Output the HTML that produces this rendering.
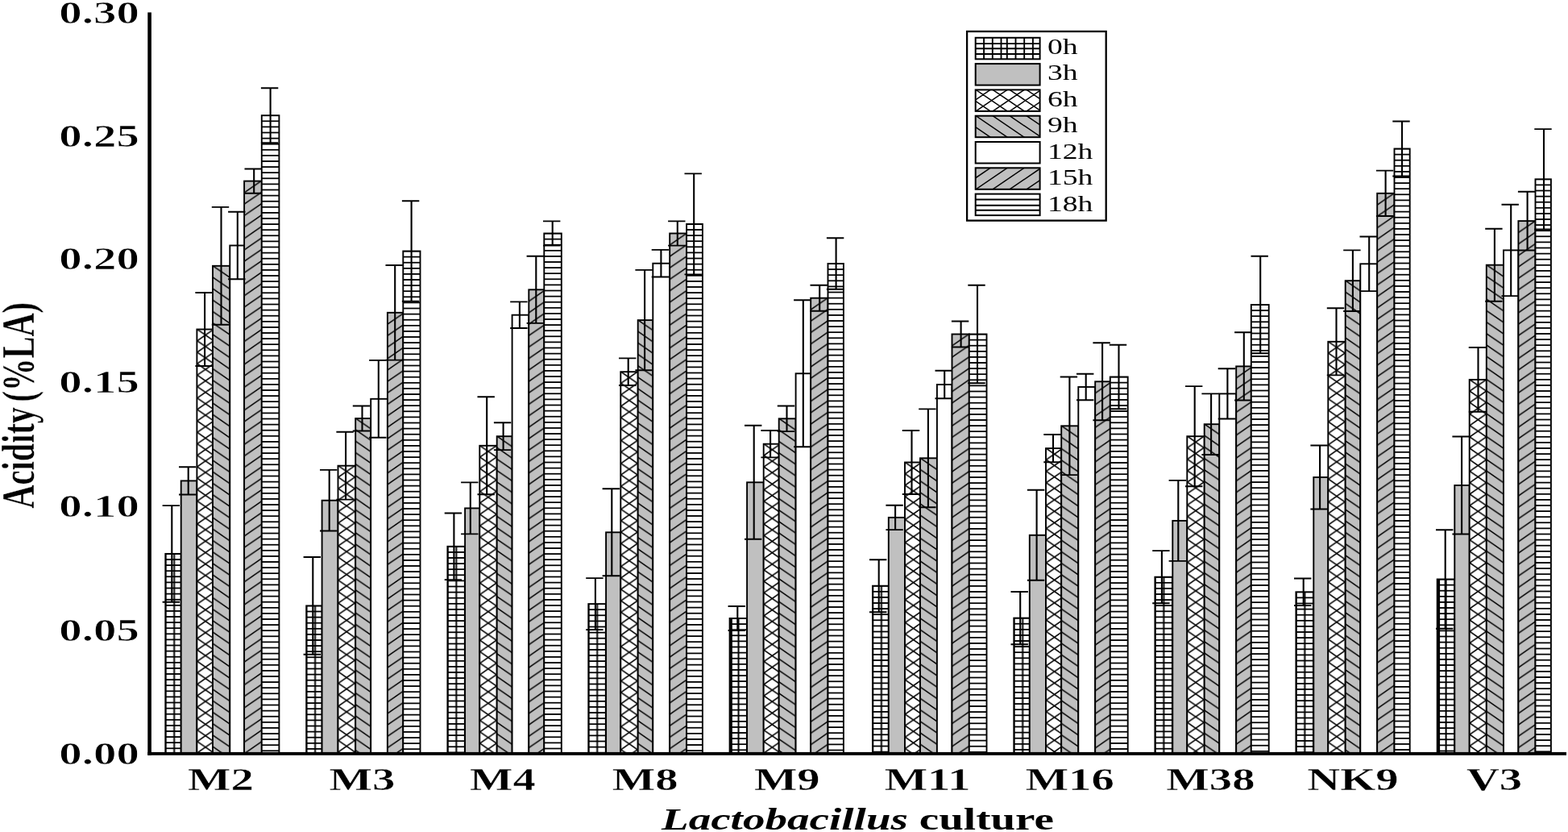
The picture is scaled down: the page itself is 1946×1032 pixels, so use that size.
<!DOCTYPE html>
<html lang="en"><head><meta charset="utf-8"><title>Acidity of Lactobacillus cultures</title>
<style>html,body{margin:0;padding:0;background:#fff;}body{width:1946px;height:1032px;overflow:hidden;}svg{display:block;}text{font-family:"Liberation Serif","DejaVu Serif",serif;fill:#000;}.b{font-weight:bold;}.bi{font-weight:bold;font-style:italic;}.th{stroke:#fff;stroke-width:0.7px;stroke-linejoin:round;}.th2{stroke:#fff;stroke-width:0.4px;stroke-linejoin:round;}</style></head><body>
<svg width="1946" height="1032" viewBox="0 0 1946 1032">
<defs>
<pattern id="b0" patternUnits="userSpaceOnUse" x="205.6" y="686.9" width="60.00" height="7.10"><rect width="60.00" height="7.10" fill="#fff"/><path d="M-1 0 H99 M-1 7.1 H99" stroke="#000" stroke-width="1.75" fill="none"/><path d="M0 -1 V30 M10.6 -1 V30 M21.6 -1 V30" stroke="#000" stroke-width="2" fill="none"/></pattern>
<pattern id="b1" patternUnits="userSpaceOnUse" x="244.7" y="408.5" width="20.60" height="14.20"><rect width="20.60" height="14.20" fill="#fff"/><path d="M-20.6 -14.2 L41.2 28.4 M-20.6 0 L41.2 42.6 M-20.6 -28.4 L41.2 14.2 M-20.6 28.4 L41.2 -14.2 M-20.6 42.6 L41.2 0 M-20.6 14.2 L41.2 -28.4" stroke="#000" stroke-width="1.65" fill="none"/></pattern>
<pattern id="b2" patternUnits="userSpaceOnUse" x="264.3" y="329.8" width="20.60" height="14.20"><rect width="20.60" height="14.20" fill="#c0c0c0"/><path d="M-20.6 -14.2 L41.2 28.4 M-20.6 0 L41.2 42.6 M-20.6 -28.4 L41.2 14.2" stroke="#000" stroke-width="1.50" fill="none"/></pattern>
<pattern id="b3" patternUnits="userSpaceOnUse" x="303.4" y="224.6" width="20.60" height="14.20"><rect width="20.60" height="14.20" fill="#c0c0c0"/><path d="M-20.6 28.4 L41.2 -14.2 M-20.6 42.6 L41.2 0 M-20.6 14.2 L41.2 -28.4" stroke="#000" stroke-width="1.50" fill="none"/></pattern>
<pattern id="b4" patternUnits="userSpaceOnUse" x="325.1" y="143.2" width="60.00" height="7.10"><rect width="60.00" height="7.10" fill="#fff"/><path d="M-1 0 H99 M-1 7.1 H99" stroke="#000" stroke-width="1.75" fill="none"/></pattern>
<pattern id="b5" patternUnits="userSpaceOnUse" x="380.5" y="751.4" width="60.00" height="7.10"><rect width="60.00" height="7.10" fill="#fff"/><path d="M-1 0 H99 M-1 7.1 H99" stroke="#000" stroke-width="1.75" fill="none"/><path d="M0 -1 V30 M10.6 -1 V30 M21.6 -1 V30" stroke="#000" stroke-width="2" fill="none"/></pattern>
<pattern id="b6" patternUnits="userSpaceOnUse" x="419.8" y="577.7" width="20.60" height="14.20"><rect width="20.60" height="14.20" fill="#fff"/><path d="M-20.6 -14.2 L41.2 28.4 M-20.6 0 L41.2 42.6 M-20.6 -28.4 L41.2 14.2 M-20.6 28.4 L41.2 -14.2 M-20.6 42.6 L41.2 0 M-20.6 14.2 L41.2 -28.4" stroke="#000" stroke-width="1.65" fill="none"/></pattern>
<pattern id="b7" patternUnits="userSpaceOnUse" x="441.5" y="519.0" width="20.60" height="14.20"><rect width="20.60" height="14.20" fill="#c0c0c0"/><path d="M-20.6 -14.2 L41.2 28.4 M-20.6 0 L41.2 42.6 M-20.6 -28.4 L41.2 14.2" stroke="#000" stroke-width="1.50" fill="none"/></pattern>
<pattern id="b8" patternUnits="userSpaceOnUse" x="481.2" y="387.8" width="20.60" height="14.20"><rect width="20.60" height="14.20" fill="#c0c0c0"/><path d="M-20.6 28.4 L41.2 -14.2 M-20.6 42.6 L41.2 0 M-20.6 14.2 L41.2 -28.4" stroke="#000" stroke-width="1.50" fill="none"/></pattern>
<pattern id="b9" patternUnits="userSpaceOnUse" x="500.6" y="311.5" width="60.00" height="7.10"><rect width="60.00" height="7.10" fill="#fff"/><path d="M-1 0 H99 M-1 7.1 H99" stroke="#000" stroke-width="1.75" fill="none"/></pattern>
<pattern id="b10" patternUnits="userSpaceOnUse" x="555.7" y="677.8" width="60.00" height="7.10"><rect width="60.00" height="7.10" fill="#fff"/><path d="M-1 0 H99 M-1 7.1 H99" stroke="#000" stroke-width="1.75" fill="none"/><path d="M0 -1 V30 M10.6 -1 V30 M21.6 -1 V30" stroke="#000" stroke-width="2" fill="none"/></pattern>
<pattern id="b11" patternUnits="userSpaceOnUse" x="595.6" y="552.8" width="20.60" height="14.20"><rect width="20.60" height="14.20" fill="#fff"/><path d="M-20.6 -14.2 L41.2 28.4 M-20.6 0 L41.2 42.6 M-20.6 -28.4 L41.2 14.2 M-20.6 28.4 L41.2 -14.2 M-20.6 42.6 L41.2 0 M-20.6 14.2 L41.2 -28.4" stroke="#000" stroke-width="1.65" fill="none"/></pattern>
<pattern id="b12" patternUnits="userSpaceOnUse" x="617.0" y="541.2" width="20.60" height="14.20"><rect width="20.60" height="14.20" fill="#c0c0c0"/><path d="M-20.6 -14.2 L41.2 28.4 M-20.6 0 L41.2 42.6 M-20.6 -28.4 L41.2 14.2" stroke="#000" stroke-width="1.50" fill="none"/></pattern>
<pattern id="b13" patternUnits="userSpaceOnUse" x="656.6" y="359.3" width="20.60" height="14.20"><rect width="20.60" height="14.20" fill="#c0c0c0"/><path d="M-20.6 28.4 L41.2 -14.2 M-20.6 42.6 L41.2 0 M-20.6 14.2 L41.2 -28.4" stroke="#000" stroke-width="1.50" fill="none"/></pattern>
<pattern id="b14" patternUnits="userSpaceOnUse" x="675.6" y="289.5" width="60.00" height="7.10"><rect width="60.00" height="7.10" fill="#fff"/><path d="M-1 0 H99 M-1 7.1 H99" stroke="#000" stroke-width="1.75" fill="none"/></pattern>
<pattern id="b15" patternUnits="userSpaceOnUse" x="730.6" y="749.1" width="60.00" height="7.10"><rect width="60.00" height="7.10" fill="#fff"/><path d="M-1 0 H99 M-1 7.1 H99" stroke="#000" stroke-width="1.75" fill="none"/><path d="M0 -1 V30 M10.6 -1 V30 M21.6 -1 V30" stroke="#000" stroke-width="2" fill="none"/></pattern>
<pattern id="b16" patternUnits="userSpaceOnUse" x="770.6" y="461.2" width="20.60" height="14.20"><rect width="20.60" height="14.20" fill="#fff"/><path d="M-20.6 -14.2 L41.2 28.4 M-20.6 0 L41.2 42.6 M-20.6 -28.4 L41.2 14.2 M-20.6 28.4 L41.2 -14.2 M-20.6 42.6 L41.2 0 M-20.6 14.2 L41.2 -28.4" stroke="#000" stroke-width="1.65" fill="none"/></pattern>
<pattern id="b17" patternUnits="userSpaceOnUse" x="792.0" y="397.1" width="20.60" height="14.20"><rect width="20.60" height="14.20" fill="#c0c0c0"/><path d="M-20.6 -14.2 L41.2 28.4 M-20.6 0 L41.2 42.6 M-20.6 -28.4 L41.2 14.2" stroke="#000" stroke-width="1.50" fill="none"/></pattern>
<pattern id="b18" patternUnits="userSpaceOnUse" x="831.5" y="289.5" width="20.60" height="14.20"><rect width="20.60" height="14.20" fill="#c0c0c0"/><path d="M-20.6 28.4 L41.2 -14.2 M-20.6 42.6 L41.2 0 M-20.6 14.2 L41.2 -28.4" stroke="#000" stroke-width="1.50" fill="none"/></pattern>
<pattern id="b19" patternUnits="userSpaceOnUse" x="852.4" y="277.9" width="60.00" height="7.10"><rect width="60.00" height="7.10" fill="#fff"/><path d="M-1 0 H99 M-1 7.1 H99" stroke="#000" stroke-width="1.75" fill="none"/></pattern>
<pattern id="b20" patternUnits="userSpaceOnUse" x="905.9" y="767.0" width="60.00" height="7.10"><rect width="60.00" height="7.10" fill="#fff"/><path d="M-1 0 H99 M-1 7.1 H99" stroke="#000" stroke-width="1.75" fill="none"/><path d="M0 -1 V30 M10.6 -1 V30 M21.6 -1 V30" stroke="#000" stroke-width="2" fill="none"/></pattern>
<pattern id="b21" patternUnits="userSpaceOnUse" x="948.0" y="550.7" width="20.60" height="14.20"><rect width="20.60" height="14.20" fill="#fff"/><path d="M-20.6 -14.2 L41.2 28.4 M-20.6 0 L41.2 42.6 M-20.6 -28.4 L41.2 14.2 M-20.6 28.4 L41.2 -14.2 M-20.6 42.6 L41.2 0 M-20.6 14.2 L41.2 -28.4" stroke="#000" stroke-width="1.65" fill="none"/></pattern>
<pattern id="b22" patternUnits="userSpaceOnUse" x="967.0" y="519.3" width="20.60" height="14.20"><rect width="20.60" height="14.20" fill="#c0c0c0"/><path d="M-20.6 -14.2 L41.2 28.4 M-20.6 0 L41.2 42.6 M-20.6 -28.4 L41.2 14.2" stroke="#000" stroke-width="1.50" fill="none"/></pattern>
<pattern id="b23" patternUnits="userSpaceOnUse" x="1006.5" y="369.7" width="20.60" height="14.20"><rect width="20.60" height="14.20" fill="#c0c0c0"/><path d="M-20.6 28.4 L41.2 -14.2 M-20.6 42.6 L41.2 0 M-20.6 14.2 L41.2 -28.4" stroke="#000" stroke-width="1.50" fill="none"/></pattern>
<pattern id="b24" patternUnits="userSpaceOnUse" x="1027.8" y="327.0" width="60.00" height="7.10"><rect width="60.00" height="7.10" fill="#fff"/><path d="M-1 0 H99 M-1 7.1 H99" stroke="#000" stroke-width="1.75" fill="none"/></pattern>
<pattern id="b25" patternUnits="userSpaceOnUse" x="1083.3" y="726.7" width="60.00" height="7.10"><rect width="60.00" height="7.10" fill="#fff"/><path d="M-1 0 H99 M-1 7.1 H99" stroke="#000" stroke-width="1.75" fill="none"/><path d="M0 -1 V30 M10.6 -1 V30 M21.6 -1 V30" stroke="#000" stroke-width="2" fill="none"/></pattern>
<pattern id="b26" patternUnits="userSpaceOnUse" x="1123.3" y="573.5" width="20.60" height="14.20"><rect width="20.60" height="14.20" fill="#fff"/><path d="M-20.6 -14.2 L41.2 28.4 M-20.6 0 L41.2 42.6 M-20.6 -28.4 L41.2 14.2 M-20.6 28.4 L41.2 -14.2 M-20.6 42.6 L41.2 0 M-20.6 14.2 L41.2 -28.4" stroke="#000" stroke-width="1.65" fill="none"/></pattern>
<pattern id="b27" patternUnits="userSpaceOnUse" x="1142.3" y="568.3" width="20.60" height="14.20"><rect width="20.60" height="14.20" fill="#c0c0c0"/><path d="M-20.6 -14.2 L41.2 28.4 M-20.6 0 L41.2 42.6 M-20.6 -28.4 L41.2 14.2" stroke="#000" stroke-width="1.50" fill="none"/></pattern>
<pattern id="b28" patternUnits="userSpaceOnUse" x="1181.8" y="414.5" width="20.60" height="14.20"><rect width="20.60" height="14.20" fill="#c0c0c0"/><path d="M-20.6 28.4 L41.2 -14.2 M-20.6 42.6 L41.2 0 M-20.6 14.2 L41.2 -28.4" stroke="#000" stroke-width="1.50" fill="none"/></pattern>
<pattern id="b29" patternUnits="userSpaceOnUse" x="1203.1" y="414.5" width="60.00" height="7.10"><rect width="60.00" height="7.10" fill="#fff"/><path d="M-1 0 H99 M-1 7.1 H99" stroke="#000" stroke-width="1.75" fill="none"/></pattern>
<pattern id="b30" patternUnits="userSpaceOnUse" x="1258.6" y="766.6" width="60.00" height="7.10"><rect width="60.00" height="7.10" fill="#fff"/><path d="M-1 0 H99 M-1 7.1 H99" stroke="#000" stroke-width="1.75" fill="none"/><path d="M0 -1 V30 M10.6 -1 V30 M21.6 -1 V30" stroke="#000" stroke-width="2" fill="none"/></pattern>
<pattern id="b31" patternUnits="userSpaceOnUse" x="1298.3" y="556.1" width="20.60" height="14.20"><rect width="20.60" height="14.20" fill="#fff"/><path d="M-20.6 -14.2 L41.2 28.4 M-20.6 0 L41.2 42.6 M-20.6 -28.4 L41.2 14.2 M-20.6 28.4 L41.2 -14.2 M-20.6 42.6 L41.2 0 M-20.6 14.2 L41.2 -28.4" stroke="#000" stroke-width="1.65" fill="none"/></pattern>
<pattern id="b32" patternUnits="userSpaceOnUse" x="1317.5" y="528.3" width="20.60" height="14.20"><rect width="20.60" height="14.20" fill="#c0c0c0"/><path d="M-20.6 -14.2 L41.2 28.4 M-20.6 0 L41.2 42.6 M-20.6 -28.4 L41.2 14.2" stroke="#000" stroke-width="1.50" fill="none"/></pattern>
<pattern id="b33" patternUnits="userSpaceOnUse" x="1359.5" y="473.3" width="20.60" height="14.20"><rect width="20.60" height="14.20" fill="#c0c0c0"/><path d="M-20.6 28.4 L41.2 -14.2 M-20.6 42.6 L41.2 0 M-20.6 14.2 L41.2 -28.4" stroke="#000" stroke-width="1.50" fill="none"/></pattern>
<pattern id="b34" patternUnits="userSpaceOnUse" x="1378.1" y="467.5" width="60.00" height="7.10"><rect width="60.00" height="7.10" fill="#fff"/><path d="M-1 0 H99 M-1 7.1 H99" stroke="#000" stroke-width="1.75" fill="none"/></pattern>
<pattern id="b35" patternUnits="userSpaceOnUse" x="1433.7" y="715.7" width="60.00" height="7.10"><rect width="60.00" height="7.10" fill="#fff"/><path d="M-1 0 H99 M-1 7.1 H99" stroke="#000" stroke-width="1.75" fill="none"/><path d="M0 -1 V30 M10.6 -1 V30 M21.6 -1 V30" stroke="#000" stroke-width="2" fill="none"/></pattern>
<pattern id="b36" patternUnits="userSpaceOnUse" x="1473.6" y="541.2" width="20.60" height="14.20"><rect width="20.60" height="14.20" fill="#fff"/><path d="M-20.6 -14.2 L41.2 28.4 M-20.6 0 L41.2 42.6 M-20.6 -28.4 L41.2 14.2 M-20.6 28.4 L41.2 -14.2 M-20.6 42.6 L41.2 0 M-20.6 14.2 L41.2 -28.4" stroke="#000" stroke-width="1.65" fill="none"/></pattern>
<pattern id="b37" patternUnits="userSpaceOnUse" x="1495.0" y="526.2" width="20.60" height="14.20"><rect width="20.60" height="14.20" fill="#c0c0c0"/><path d="M-20.6 -14.2 L41.2 28.4 M-20.6 0 L41.2 42.6 M-20.6 -28.4 L41.2 14.2" stroke="#000" stroke-width="1.50" fill="none"/></pattern>
<pattern id="b38" patternUnits="userSpaceOnUse" x="1534.5" y="454.4" width="20.60" height="14.20"><rect width="20.60" height="14.20" fill="#c0c0c0"/><path d="M-20.6 28.4 L41.2 -14.2 M-20.6 42.6 L41.2 0 M-20.6 14.2 L41.2 -28.4" stroke="#000" stroke-width="1.50" fill="none"/></pattern>
<pattern id="b39" patternUnits="userSpaceOnUse" x="1553.1" y="378.0" width="60.00" height="7.10"><rect width="60.00" height="7.10" fill="#fff"/><path d="M-1 0 H99 M-1 7.1 H99" stroke="#000" stroke-width="1.75" fill="none"/></pattern>
<pattern id="b40" patternUnits="userSpaceOnUse" x="1608.7" y="734.3" width="60.00" height="7.10"><rect width="60.00" height="7.10" fill="#fff"/><path d="M-1 0 H99 M-1 7.1 H99" stroke="#000" stroke-width="1.75" fill="none"/><path d="M0 -1 V30 M10.6 -1 V30 M21.6 -1 V30" stroke="#000" stroke-width="2" fill="none"/></pattern>
<pattern id="b41" patternUnits="userSpaceOnUse" x="1648.6" y="423.8" width="20.60" height="14.20"><rect width="20.60" height="14.20" fill="#fff"/><path d="M-20.6 -14.2 L41.2 28.4 M-20.6 0 L41.2 42.6 M-20.6 -28.4 L41.2 14.2 M-20.6 28.4 L41.2 -14.2 M-20.6 42.6 L41.2 0 M-20.6 14.2 L41.2 -28.4" stroke="#000" stroke-width="1.65" fill="none"/></pattern>
<pattern id="b42" patternUnits="userSpaceOnUse" x="1670.0" y="348.2" width="20.60" height="14.20"><rect width="20.60" height="14.20" fill="#c0c0c0"/><path d="M-20.6 -14.2 L41.2 28.4 M-20.6 0 L41.2 42.6 M-20.6 -28.4 L41.2 14.2" stroke="#000" stroke-width="1.50" fill="none"/></pattern>
<pattern id="b43" patternUnits="userSpaceOnUse" x="1709.5" y="239.8" width="20.60" height="14.20"><rect width="20.60" height="14.20" fill="#c0c0c0"/><path d="M-20.6 28.4 L41.2 -14.2 M-20.6 42.6 L41.2 0 M-20.6 14.2 L41.2 -28.4" stroke="#000" stroke-width="1.50" fill="none"/></pattern>
<pattern id="b44" patternUnits="userSpaceOnUse" x="1730.8" y="184.5" width="60.00" height="7.10"><rect width="60.00" height="7.10" fill="#fff"/><path d="M-1 0 H99 M-1 7.1 H99" stroke="#000" stroke-width="1.75" fill="none"/></pattern>
<pattern id="b45" patternUnits="userSpaceOnUse" x="1784.0" y="718.5" width="60.00" height="7.10"><rect width="60.00" height="7.10" fill="#fff"/><path d="M-1 0 H99 M-1 7.1 H99" stroke="#000" stroke-width="1.75" fill="none"/><path d="M0 -1 V30 M10.6 -1 V30 M21.6 -1 V30" stroke="#000" stroke-width="2" fill="none"/></pattern>
<pattern id="b46" patternUnits="userSpaceOnUse" x="1824.0" y="470.9" width="20.60" height="14.20"><rect width="20.60" height="14.20" fill="#fff"/><path d="M-20.6 -14.2 L41.2 28.4 M-20.6 0 L41.2 42.6 M-20.6 -28.4 L41.2 14.2 M-20.6 28.4 L41.2 -14.2 M-20.6 42.6 L41.2 0 M-20.6 14.2 L41.2 -28.4" stroke="#000" stroke-width="1.65" fill="none"/></pattern>
<pattern id="b47" patternUnits="userSpaceOnUse" x="1845.1" y="328.7" width="20.60" height="14.20"><rect width="20.60" height="14.20" fill="#c0c0c0"/><path d="M-20.6 -14.2 L41.2 28.4 M-20.6 0 L41.2 42.6 M-20.6 -28.4 L41.2 14.2" stroke="#000" stroke-width="1.50" fill="none"/></pattern>
<pattern id="b48" patternUnits="userSpaceOnUse" x="1884.7" y="274.1" width="20.60" height="14.20"><rect width="20.60" height="14.20" fill="#c0c0c0"/><path d="M-20.6 28.4 L41.2 -14.2 M-20.6 42.6 L41.2 0 M-20.6 14.2 L41.2 -28.4" stroke="#000" stroke-width="1.50" fill="none"/></pattern>
<pattern id="b49" patternUnits="userSpaceOnUse" x="1905.8" y="222.3" width="60.00" height="7.10"><rect width="60.00" height="7.10" fill="#fff"/><path d="M-1 0 H99 M-1 7.1 H99" stroke="#000" stroke-width="1.75" fill="none"/></pattern>
</defs>
<rect width="1946" height="1032" fill="#fff"/>
<g>
<rect x="205.3" y="686.9" width="19.4" height="247.8" fill="url(#b0)" stroke="#000" stroke-width="1.9"/>
<rect x="224.7" y="596.4" width="19.7" height="338.3" fill="#c0c0c0" stroke="#000" stroke-width="1.9"/>
<rect x="244.4" y="408.5" width="19.6" height="526.2" fill="url(#b1)" stroke="#000" stroke-width="1.9"/>
<rect x="264.0" y="329.8" width="21.3" height="604.9" fill="url(#b2)" stroke="#000" stroke-width="1.9"/>
<rect x="285.3" y="304.5" width="17.8" height="630.2" fill="#fff" stroke="#000" stroke-width="1.9"/>
<rect x="303.1" y="224.6" width="21.7" height="710.1" fill="url(#b3)" stroke="#000" stroke-width="1.9"/>
<rect x="324.8" y="143.2" width="21.6" height="791.5" fill="url(#b4)" stroke="#000" stroke-width="1.9"/>
<line x1="213.3" y1="627.1" x2="213.3" y2="746.7" stroke="#000" stroke-width="2.1"/>
<line x1="233.7" y1="579.3" x2="233.7" y2="613.5" stroke="#000" stroke-width="2.1"/>
<line x1="254.1" y1="363.0" x2="254.1" y2="454.0" stroke="#000" stroke-width="2.1"/>
<line x1="274.5" y1="256.9" x2="274.5" y2="402.7" stroke="#000" stroke-width="2.1"/>
<line x1="294.8" y1="262.7" x2="294.8" y2="346.3" stroke="#000" stroke-width="2.1"/>
<line x1="315.2" y1="209.5" x2="315.2" y2="239.7" stroke="#000" stroke-width="2.1"/>
<line x1="335.6" y1="109.2" x2="335.6" y2="177.2" stroke="#000" stroke-width="2.1"/>
<path d="M201.6 627.1 H223.0 M201.6 746.7 H223.0 M222.0 579.3 H243.4 M222.0 613.5 H243.4 M242.4 363.0 H263.8 M242.4 454.0 H263.8 M262.8 256.9 H284.2 M262.8 402.7 H284.2 M283.1 262.7 H304.5 M283.1 346.3 H304.5 M303.5 209.5 H324.9 M303.5 239.7 H324.9 M323.9 109.2 H345.3 M323.9 177.2 H345.3" stroke="#000" stroke-width="1.9" fill="none"/>
</g>
<g>
<rect x="380.2" y="751.4" width="19.4" height="183.3" fill="url(#b5)" stroke="#000" stroke-width="1.9"/>
<rect x="399.6" y="620.7" width="19.9" height="314.0" fill="#c0c0c0" stroke="#000" stroke-width="1.9"/>
<rect x="419.5" y="577.7" width="21.7" height="357.0" fill="url(#b6)" stroke="#000" stroke-width="1.9"/>
<rect x="441.2" y="519.0" width="19.0" height="415.7" fill="url(#b7)" stroke="#000" stroke-width="1.9"/>
<rect x="460.2" y="494.8" width="20.7" height="439.9" fill="#fff" stroke="#000" stroke-width="1.9"/>
<rect x="480.9" y="387.8" width="19.4" height="546.9" fill="url(#b8)" stroke="#000" stroke-width="1.9"/>
<rect x="500.3" y="311.5" width="21.2" height="623.2" fill="url(#b9)" stroke="#000" stroke-width="1.9"/>
<line x1="388.3" y1="691.0" x2="388.3" y2="811.8" stroke="#000" stroke-width="2.1"/>
<line x1="408.7" y1="582.9" x2="408.7" y2="658.5" stroke="#000" stroke-width="2.1"/>
<line x1="429.1" y1="535.8" x2="429.1" y2="619.6" stroke="#000" stroke-width="2.1"/>
<line x1="449.5" y1="503.5" x2="449.5" y2="534.5" stroke="#000" stroke-width="2.1"/>
<line x1="469.8" y1="446.9" x2="469.8" y2="542.7" stroke="#000" stroke-width="2.1"/>
<line x1="490.2" y1="329.0" x2="490.2" y2="446.6" stroke="#000" stroke-width="2.1"/>
<line x1="510.6" y1="249.3" x2="510.6" y2="373.7" stroke="#000" stroke-width="2.1"/>
<path d="M376.6 691.0 H398.0 M376.6 811.8 H398.0 M397.0 582.9 H418.4 M397.0 658.5 H418.4 M417.4 535.8 H438.8 M417.4 619.6 H438.8 M437.8 503.5 H459.2 M437.8 534.5 H459.2 M458.1 446.9 H479.5 M458.1 542.7 H479.5 M478.5 329.0 H499.9 M478.5 446.6 H499.9 M498.9 249.3 H520.3 M498.9 373.7 H520.3" stroke="#000" stroke-width="1.9" fill="none"/>
</g>
<g>
<rect x="555.4" y="677.8" width="21.7" height="256.9" fill="url(#b10)" stroke="#000" stroke-width="1.9"/>
<rect x="577.1" y="630.4" width="18.2" height="304.3" fill="#c0c0c0" stroke="#000" stroke-width="1.9"/>
<rect x="595.3" y="552.8" width="21.4" height="381.9" fill="url(#b11)" stroke="#000" stroke-width="1.9"/>
<rect x="616.7" y="541.2" width="18.9" height="393.5" fill="url(#b12)" stroke="#000" stroke-width="1.9"/>
<rect x="635.6" y="390.7" width="20.7" height="544.0" fill="#fff" stroke="#000" stroke-width="1.9"/>
<rect x="656.3" y="359.3" width="19.0" height="575.4" fill="url(#b13)" stroke="#000" stroke-width="1.9"/>
<rect x="675.3" y="289.5" width="21.5" height="645.2" fill="url(#b14)" stroke="#000" stroke-width="1.9"/>
<line x1="563.4" y1="636.5" x2="563.4" y2="719.1" stroke="#000" stroke-width="2.1"/>
<line x1="583.8" y1="598.4" x2="583.8" y2="662.4" stroke="#000" stroke-width="2.1"/>
<line x1="604.2" y1="492.3" x2="604.2" y2="613.3" stroke="#000" stroke-width="2.1"/>
<line x1="624.6" y1="524.3" x2="624.6" y2="558.1" stroke="#000" stroke-width="2.1"/>
<line x1="644.9" y1="374.4" x2="644.9" y2="407.0" stroke="#000" stroke-width="2.1"/>
<line x1="665.3" y1="317.7" x2="665.3" y2="400.9" stroke="#000" stroke-width="2.1"/>
<line x1="685.7" y1="274.4" x2="685.7" y2="304.6" stroke="#000" stroke-width="2.1"/>
<path d="M551.7 636.5 H573.1 M551.7 719.1 H573.1 M572.1 598.4 H593.5 M572.1 662.4 H593.5 M592.5 492.3 H613.9 M592.5 613.3 H613.9 M612.9 524.3 H634.3 M612.9 558.1 H634.3 M633.2 374.4 H654.6 M633.2 407.0 H654.6 M653.6 317.7 H675.0 M653.6 400.9 H675.0 M674.0 274.4 H695.4 M674.0 304.6 H695.4" stroke="#000" stroke-width="1.9" fill="none"/>
</g>
<g>
<rect x="730.3" y="749.1" width="21.8" height="185.6" fill="url(#b15)" stroke="#000" stroke-width="1.9"/>
<rect x="752.1" y="660.3" width="18.2" height="274.4" fill="#c0c0c0" stroke="#000" stroke-width="1.9"/>
<rect x="770.3" y="461.2" width="21.4" height="473.5" fill="url(#b16)" stroke="#000" stroke-width="1.9"/>
<rect x="791.7" y="397.1" width="18.6" height="537.6" fill="url(#b17)" stroke="#000" stroke-width="1.9"/>
<rect x="810.3" y="326.7" width="20.9" height="608.0" fill="#fff" stroke="#000" stroke-width="1.9"/>
<rect x="831.2" y="289.5" width="20.9" height="645.2" fill="url(#b18)" stroke="#000" stroke-width="1.9"/>
<rect x="852.1" y="277.9" width="19.8" height="656.8" fill="url(#b19)" stroke="#000" stroke-width="1.9"/>
<line x1="738.9" y1="717.1" x2="738.9" y2="781.1" stroke="#000" stroke-width="2.1"/>
<line x1="759.3" y1="606.3" x2="759.3" y2="714.3" stroke="#000" stroke-width="2.1"/>
<line x1="779.7" y1="444.4" x2="779.7" y2="478.0" stroke="#000" stroke-width="2.1"/>
<line x1="800.1" y1="334.9" x2="800.1" y2="459.3" stroke="#000" stroke-width="2.1"/>
<line x1="820.4" y1="309.9" x2="820.4" y2="343.5" stroke="#000" stroke-width="2.1"/>
<line x1="840.8" y1="274.4" x2="840.8" y2="304.6" stroke="#000" stroke-width="2.1"/>
<line x1="861.2" y1="215.4" x2="861.2" y2="340.4" stroke="#000" stroke-width="2.1"/>
<path d="M727.2 717.1 H748.6 M727.2 781.1 H748.6 M747.6 606.3 H769.0 M747.6 714.3 H769.0 M768.0 444.4 H789.4 M768.0 478.0 H789.4 M788.4 334.9 H809.8 M788.4 459.3 H809.8 M808.7 309.9 H830.1 M808.7 343.5 H830.1 M829.1 274.4 H850.5 M829.1 304.6 H850.5 M849.5 215.4 H870.9 M849.5 340.4 H870.9" stroke="#000" stroke-width="1.9" fill="none"/>
</g>
<g>
<rect x="905.6" y="767.0" width="21.5" height="167.7" fill="url(#b20)" stroke="#000" stroke-width="1.9"/>
<line x1="907.8" y1="767.0" x2="907.8" y2="934.7" stroke="#000" stroke-width="2.2"/>
<rect x="927.1" y="598.3" width="20.6" height="336.4" fill="#c0c0c0" stroke="#000" stroke-width="1.9"/>
<rect x="947.7" y="550.7" width="19.0" height="384.0" fill="url(#b21)" stroke="#000" stroke-width="1.9"/>
<rect x="966.7" y="519.3" width="20.9" height="415.4" fill="url(#b22)" stroke="#000" stroke-width="1.9"/>
<rect x="987.6" y="463.3" width="18.6" height="471.4" fill="#fff" stroke="#000" stroke-width="1.9"/>
<rect x="1006.2" y="369.7" width="21.3" height="565.0" fill="url(#b23)" stroke="#000" stroke-width="1.9"/>
<rect x="1027.5" y="327.0" width="19.4" height="607.7" fill="url(#b24)" stroke="#000" stroke-width="1.9"/>
<line x1="915.3" y1="752.0" x2="915.3" y2="782.0" stroke="#000" stroke-width="2.1"/>
<line x1="935.7" y1="527.8" x2="935.7" y2="668.8" stroke="#000" stroke-width="2.1"/>
<line x1="956.1" y1="534.0" x2="956.1" y2="567.4" stroke="#000" stroke-width="2.1"/>
<line x1="976.5" y1="503.5" x2="976.5" y2="535.1" stroke="#000" stroke-width="2.1"/>
<line x1="996.8" y1="372.3" x2="996.8" y2="554.3" stroke="#000" stroke-width="2.1"/>
<line x1="1017.2" y1="353.7" x2="1017.2" y2="385.7" stroke="#000" stroke-width="2.1"/>
<line x1="1037.6" y1="295.3" x2="1037.6" y2="358.7" stroke="#000" stroke-width="2.1"/>
<path d="M903.6 752.0 H925.0 M903.6 782.0 H925.0 M924.0 527.8 H945.4 M924.0 668.8 H945.4 M944.4 534.0 H965.8 M944.4 567.4 H965.8 M964.8 503.5 H986.2 M964.8 535.1 H986.2 M985.1 372.3 H1006.5 M985.1 554.3 H1006.5 M1005.5 353.7 H1026.9 M1005.5 385.7 H1026.9 M1025.9 295.3 H1047.3 M1025.9 358.7 H1047.3" stroke="#000" stroke-width="1.9" fill="none"/>
</g>
<g>
<rect x="1083.0" y="726.7" width="19.8" height="208.0" fill="url(#b25)" stroke="#000" stroke-width="1.9"/>
<rect x="1102.8" y="641.9" width="20.2" height="292.8" fill="#c0c0c0" stroke="#000" stroke-width="1.9"/>
<rect x="1123.0" y="573.5" width="19.0" height="361.2" fill="url(#b26)" stroke="#000" stroke-width="1.9"/>
<rect x="1142.0" y="568.3" width="20.9" height="366.4" fill="url(#b27)" stroke="#000" stroke-width="1.9"/>
<rect x="1162.9" y="477.0" width="18.6" height="457.7" fill="#fff" stroke="#000" stroke-width="1.9"/>
<rect x="1181.5" y="414.5" width="21.3" height="520.2" fill="url(#b28)" stroke="#000" stroke-width="1.9"/>
<rect x="1202.8" y="414.5" width="21.7" height="520.2" fill="url(#b29)" stroke="#000" stroke-width="1.9"/>
<line x1="1090.7" y1="694.2" x2="1090.7" y2="759.2" stroke="#000" stroke-width="2.1"/>
<line x1="1111.1" y1="626.7" x2="1111.1" y2="657.1" stroke="#000" stroke-width="2.1"/>
<line x1="1131.5" y1="534.0" x2="1131.5" y2="613.0" stroke="#000" stroke-width="2.1"/>
<line x1="1151.9" y1="507.4" x2="1151.9" y2="629.2" stroke="#000" stroke-width="2.1"/>
<line x1="1172.2" y1="459.8" x2="1172.2" y2="494.2" stroke="#000" stroke-width="2.1"/>
<line x1="1192.6" y1="398.5" x2="1192.6" y2="430.5" stroke="#000" stroke-width="2.1"/>
<line x1="1213.0" y1="353.7" x2="1213.0" y2="475.3" stroke="#000" stroke-width="2.1"/>
<path d="M1079.0 694.2 H1100.4 M1079.0 759.2 H1100.4 M1099.4 626.7 H1120.8 M1099.4 657.1 H1120.8 M1119.8 534.0 H1141.2 M1119.8 613.0 H1141.2 M1140.2 507.4 H1161.6 M1140.2 629.2 H1161.6 M1160.5 459.8 H1181.9 M1160.5 494.2 H1181.9 M1180.9 398.5 H1202.3 M1180.9 430.5 H1202.3 M1201.3 353.7 H1222.7 M1201.3 475.3 H1222.7" stroke="#000" stroke-width="1.9" fill="none"/>
</g>
<g>
<rect x="1258.3" y="766.6" width="19.5" height="168.1" fill="url(#b30)" stroke="#000" stroke-width="1.9"/>
<rect x="1277.8" y="663.8" width="20.2" height="270.9" fill="#c0c0c0" stroke="#000" stroke-width="1.9"/>
<rect x="1298.0" y="556.1" width="19.2" height="378.6" fill="url(#b31)" stroke="#000" stroke-width="1.9"/>
<rect x="1317.2" y="528.3" width="21.1" height="406.4" fill="url(#b32)" stroke="#000" stroke-width="1.9"/>
<rect x="1338.3" y="480.0" width="20.9" height="454.7" fill="#fff" stroke="#000" stroke-width="1.9"/>
<rect x="1359.2" y="473.3" width="18.6" height="461.4" fill="url(#b33)" stroke="#000" stroke-width="1.9"/>
<rect x="1377.8" y="467.5" width="21.9" height="467.2" fill="url(#b34)" stroke="#000" stroke-width="1.9"/>
<line x1="1266.2" y1="734.0" x2="1266.2" y2="799.2" stroke="#000" stroke-width="2.1"/>
<line x1="1286.6" y1="607.8" x2="1286.6" y2="719.8" stroke="#000" stroke-width="2.1"/>
<line x1="1307.0" y1="539.0" x2="1307.0" y2="573.2" stroke="#000" stroke-width="2.1"/>
<line x1="1327.4" y1="467.5" x2="1327.4" y2="589.1" stroke="#000" stroke-width="2.1"/>
<line x1="1347.7" y1="463.7" x2="1347.7" y2="496.3" stroke="#000" stroke-width="2.1"/>
<line x1="1368.1" y1="425.3" x2="1368.1" y2="521.3" stroke="#000" stroke-width="2.1"/>
<line x1="1388.5" y1="427.7" x2="1388.5" y2="507.3" stroke="#000" stroke-width="2.1"/>
<path d="M1254.5 734.0 H1275.9 M1254.5 799.2 H1275.9 M1274.9 607.8 H1296.3 M1274.9 719.8 H1296.3 M1295.3 539.0 H1316.7 M1295.3 573.2 H1316.7 M1315.7 467.5 H1337.1 M1315.7 589.1 H1337.1 M1336.0 463.7 H1357.4 M1336.0 496.3 H1357.4 M1356.4 425.3 H1377.8 M1356.4 521.3 H1377.8 M1376.8 427.7 H1398.2 M1376.8 507.3 H1398.2" stroke="#000" stroke-width="1.9" fill="none"/>
</g>
<g>
<rect x="1433.4" y="715.7" width="21.9" height="219.0" fill="url(#b35)" stroke="#000" stroke-width="1.9"/>
<rect x="1455.3" y="645.9" width="18.0" height="288.8" fill="#c0c0c0" stroke="#000" stroke-width="1.9"/>
<rect x="1473.3" y="541.2" width="21.4" height="393.5" fill="url(#b36)" stroke="#000" stroke-width="1.9"/>
<rect x="1494.7" y="526.2" width="18.6" height="408.5" fill="url(#b37)" stroke="#000" stroke-width="1.9"/>
<rect x="1513.3" y="488.4" width="20.9" height="446.3" fill="#fff" stroke="#000" stroke-width="1.9"/>
<rect x="1534.2" y="454.4" width="18.6" height="480.3" fill="url(#b38)" stroke="#000" stroke-width="1.9"/>
<rect x="1552.8" y="378.0" width="21.9" height="556.7" fill="url(#b39)" stroke="#000" stroke-width="1.9"/>
<line x1="1441.9" y1="683.1" x2="1441.9" y2="748.3" stroke="#000" stroke-width="2.1"/>
<line x1="1462.3" y1="595.9" x2="1462.3" y2="695.9" stroke="#000" stroke-width="2.1"/>
<line x1="1482.7" y1="479.1" x2="1482.7" y2="603.3" stroke="#000" stroke-width="2.1"/>
<line x1="1503.1" y1="488.4" x2="1503.1" y2="564.0" stroke="#000" stroke-width="2.1"/>
<line x1="1523.4" y1="457.3" x2="1523.4" y2="519.5" stroke="#000" stroke-width="2.1"/>
<line x1="1543.8" y1="412.3" x2="1543.8" y2="496.5" stroke="#000" stroke-width="2.1"/>
<line x1="1564.2" y1="317.7" x2="1564.2" y2="438.3" stroke="#000" stroke-width="2.1"/>
<path d="M1430.2 683.1 H1451.6 M1430.2 748.3 H1451.6 M1450.6 595.9 H1472.0 M1450.6 695.9 H1472.0 M1471.0 479.1 H1492.4 M1471.0 603.3 H1492.4 M1491.4 488.4 H1512.8 M1491.4 564.0 H1512.8 M1511.7 457.3 H1533.1 M1511.7 519.5 H1533.1 M1532.1 412.3 H1553.5 M1532.1 496.5 H1553.5 M1552.5 317.7 H1573.9 M1552.5 438.3 H1573.9" stroke="#000" stroke-width="1.9" fill="none"/>
</g>
<g>
<rect x="1608.4" y="734.3" width="21.9" height="200.4" fill="url(#b40)" stroke="#000" stroke-width="1.9"/>
<rect x="1630.3" y="592.0" width="18.0" height="342.7" fill="#c0c0c0" stroke="#000" stroke-width="1.9"/>
<rect x="1648.3" y="423.8" width="21.4" height="510.9" fill="url(#b41)" stroke="#000" stroke-width="1.9"/>
<rect x="1669.7" y="348.2" width="18.6" height="586.5" fill="url(#b42)" stroke="#000" stroke-width="1.9"/>
<rect x="1688.3" y="327.3" width="20.9" height="607.4" fill="#fff" stroke="#000" stroke-width="1.9"/>
<rect x="1709.2" y="239.8" width="21.3" height="694.9" fill="url(#b43)" stroke="#000" stroke-width="1.9"/>
<rect x="1730.5" y="184.5" width="19.2" height="750.2" fill="url(#b44)" stroke="#000" stroke-width="1.9"/>
<line x1="1617.7" y1="717.5" x2="1617.7" y2="751.1" stroke="#000" stroke-width="2.1"/>
<line x1="1638.1" y1="552.5" x2="1638.1" y2="631.5" stroke="#000" stroke-width="2.1"/>
<line x1="1658.5" y1="382.2" x2="1658.5" y2="465.4" stroke="#000" stroke-width="2.1"/>
<line x1="1678.9" y1="310.4" x2="1678.9" y2="386.0" stroke="#000" stroke-width="2.1"/>
<line x1="1699.2" y1="293.5" x2="1699.2" y2="361.1" stroke="#000" stroke-width="2.1"/>
<line x1="1719.6" y1="211.6" x2="1719.6" y2="268.0" stroke="#000" stroke-width="2.1"/>
<line x1="1740.0" y1="150.5" x2="1740.0" y2="218.5" stroke="#000" stroke-width="2.1"/>
<path d="M1606.0 717.5 H1627.4 M1606.0 751.1 H1627.4 M1626.4 552.5 H1647.8 M1626.4 631.5 H1647.8 M1646.8 382.2 H1668.2 M1646.8 465.4 H1668.2 M1667.2 310.4 H1688.6 M1667.2 386.0 H1688.6 M1687.5 293.5 H1708.9 M1687.5 361.1 H1708.9 M1707.9 211.6 H1729.3 M1707.9 268.0 H1729.3 M1728.3 150.5 H1749.7 M1728.3 218.5 H1749.7" stroke="#000" stroke-width="1.9" fill="none"/>
</g>
<g>
<rect x="1783.7" y="718.5" width="21.6" height="216.2" fill="url(#b45)" stroke="#000" stroke-width="1.9"/>
<line x1="1786.0" y1="718.5" x2="1786.0" y2="934.7" stroke="#000" stroke-width="2.2"/>
<rect x="1805.3" y="602.0" width="18.4" height="332.7" fill="#c0c0c0" stroke="#000" stroke-width="1.9"/>
<rect x="1823.7" y="470.9" width="21.1" height="463.8" fill="url(#b46)" stroke="#000" stroke-width="1.9"/>
<rect x="1844.8" y="328.7" width="21.2" height="606.0" fill="url(#b47)" stroke="#000" stroke-width="1.9"/>
<rect x="1866.0" y="310.4" width="18.4" height="624.3" fill="#fff" stroke="#000" stroke-width="1.9"/>
<rect x="1884.4" y="274.1" width="21.1" height="660.6" fill="url(#b48)" stroke="#000" stroke-width="1.9"/>
<rect x="1905.5" y="222.3" width="19.4" height="712.4" fill="url(#b49)" stroke="#000" stroke-width="1.9"/>
<line x1="1793.7" y1="657.3" x2="1793.7" y2="779.7" stroke="#000" stroke-width="2.1"/>
<line x1="1814.1" y1="541.5" x2="1814.1" y2="662.5" stroke="#000" stroke-width="2.1"/>
<line x1="1834.5" y1="431.0" x2="1834.5" y2="510.8" stroke="#000" stroke-width="2.1"/>
<line x1="1854.9" y1="283.7" x2="1854.9" y2="373.7" stroke="#000" stroke-width="2.1"/>
<line x1="1875.2" y1="253.7" x2="1875.2" y2="367.1" stroke="#000" stroke-width="2.1"/>
<line x1="1895.6" y1="237.7" x2="1895.6" y2="310.5" stroke="#000" stroke-width="2.1"/>
<line x1="1916.0" y1="160.1" x2="1916.0" y2="284.5" stroke="#000" stroke-width="2.1"/>
<path d="M1782.0 657.3 H1803.4 M1782.0 779.7 H1803.4 M1802.4 541.5 H1823.8 M1802.4 662.5 H1823.8 M1822.8 431.0 H1844.2 M1822.8 510.8 H1844.2 M1843.2 283.7 H1864.6 M1843.2 373.7 H1864.6 M1863.5 253.7 H1884.9 M1863.5 367.1 H1884.9 M1883.9 237.7 H1905.3 M1883.9 310.5 H1905.3 M1904.3 160.1 H1925.7 M1904.3 284.5 H1925.7" stroke="#000" stroke-width="1.9" fill="none"/>
</g>
<rect x="183.3" y="15.4" width="4.6" height="921.4" fill="#000"/>
<rect x="183.3" y="932.9" width="1760.7" height="3.9" fill="#000"/>
<text class="b th" x="0" y="0" font-size="40.8" text-anchor="end" transform="translate(172.8 948.3) scale(1.393 1)">0.00</text>
<text class="b th" x="0" y="0" font-size="40.8" text-anchor="end" transform="translate(172.8 794.6) scale(1.393 1)">0.05</text>
<text class="b th" x="0" y="0" font-size="40.8" text-anchor="end" transform="translate(172.8 640.8) scale(1.393 1)">0.10</text>
<text class="b th" x="0" y="0" font-size="40.8" text-anchor="end" transform="translate(172.8 487.4) scale(1.393 1)">0.15</text>
<text class="b th" x="0" y="0" font-size="40.8" text-anchor="end" transform="translate(172.8 334.0) scale(1.393 1)">0.20</text>
<text class="b th" x="0" y="0" font-size="40.8" text-anchor="end" transform="translate(172.8 182.2) scale(1.393 1)">0.25</text>
<text class="b th" x="0" y="0" font-size="40.8" text-anchor="end" transform="translate(172.8 28.7) scale(1.393 1)">0.30</text>
<text class="b th2" x="0" y="0" font-size="40.6" text-anchor="middle" transform="translate(274.0 980.2) scale(1.395 1)">M2</text>
<text class="b th2" x="0" y="0" font-size="40.6" text-anchor="middle" transform="translate(449.4 980.2) scale(1.395 1)">M3</text>
<text class="b th2" x="0" y="0" font-size="40.6" text-anchor="middle" transform="translate(624.0 980.2) scale(1.395 1)">M4</text>
<text class="b th2" x="0" y="0" font-size="40.6" text-anchor="middle" transform="translate(800.6 980.2) scale(1.395 1)">M8</text>
<text class="b th2" x="0" y="0" font-size="40.6" text-anchor="middle" transform="translate(976.8 980.2) scale(1.395 1)">M9</text>
<text class="b th2" x="0" y="0" font-size="40.6" text-anchor="middle" transform="translate(1151.1 980.2) scale(1.395 1)">M11</text>
<text class="b th2" x="0" y="0" font-size="40.6" text-anchor="middle" transform="translate(1327.7 980.2) scale(1.395 1)">M16</text>
<text class="b th2" x="0" y="0" font-size="40.6" text-anchor="middle" transform="translate(1502.4 980.2) scale(1.395 1)">M38</text>
<text class="b th2" x="0" y="0" font-size="40.6" text-anchor="middle" transform="translate(1678.9 980.2) scale(1.395 1)">NK9</text>
<text class="b th2" x="0" y="0" font-size="40.6" text-anchor="middle" transform="translate(1854.5 980.2) scale(1.395 1)">V3</text>
<text x="0" y="0" font-size="38" text-anchor="middle" transform="translate(1064.5 1028.7) scale(1.45 1)"><tspan class="bi">Lactobacillus</tspan><tspan class="b"> culture</tspan></text>
<text class="b th2" x="0" y="0" font-size="56" text-anchor="middle" word-spacing="-5" transform="translate(42.1 502.8) rotate(-90) scale(0.722 1)">Acidity (%LA)</text>
<rect x="1200.1" y="39" width="172.6" height="234.6" fill="#fff" stroke="#000" stroke-width="2.3"/>
<rect x="1210.7" y="46.8" width="79.9" height="26.5" fill="#fff"/>
<clipPath id="lc0"><rect x="1210.7" y="46.8" width="79.9" height="26.5"/></clipPath>
<path clip-path="url(#lc0)" d="M1210.7 54.1 H1290.6 M1210.7 60.2 H1290.6 M1210.7 67.0 H1290.6 M1221.1 46.8 V73.3 M1231.8 46.8 V73.3 M1242.5 46.8 V73.3 M1249.8 46.8 V73.3 M1260.5 46.8 V73.3 M1271.2 46.8 V73.3 M1281.9 46.8 V73.3" stroke="#000" stroke-width="1.90" fill="none"/>
<rect x="1210.7" y="46.8" width="79.9" height="26.5" fill="none" stroke="#000" stroke-width="2"/>
<text x="0" y="0" font-size="27.5" transform="translate(1299.9 66.7) scale(1.37 1)">0h</text>
<rect x="1210.7" y="79.1" width="79.9" height="26.5" fill="#c0c0c0"/>
<rect x="1210.7" y="79.1" width="79.9" height="26.5" fill="none" stroke="#000" stroke-width="2"/>
<text x="0" y="0" font-size="27.5" transform="translate(1299.9 99.2) scale(1.37 1)">3h</text>
<rect x="1210.7" y="111.4" width="79.9" height="26.5" fill="#fff"/>
<clipPath id="lc2"><rect x="1210.7" y="111.4" width="79.9" height="26.5"/></clipPath>
<path clip-path="url(#lc2)" d="M1097.1 76.7 L1217.1 158.3 M1097.1 158.3 L1217.1 76.7 M1118.1 76.7 L1238.1 158.3 M1118.1 158.3 L1238.1 76.7 M1139.1 76.7 L1259.1 158.3 M1139.1 158.3 L1259.1 76.7 M1160.1 76.7 L1280.1 158.3 M1160.1 158.3 L1280.1 76.7 M1181.1 76.7 L1301.1 158.3 M1181.1 158.3 L1301.1 76.7 M1202.1 76.7 L1322.1 158.3 M1202.1 158.3 L1322.1 76.7 M1223.1 76.7 L1343.1 158.3 M1223.1 158.3 L1343.1 76.7 M1244.1 76.7 L1364.1 158.3 M1244.1 158.3 L1364.1 76.7 M1265.1 76.7 L1385.1 158.3 M1265.1 158.3 L1385.1 76.7 M1286.1 76.7 L1406.1 158.3 M1286.1 158.3 L1406.1 76.7" stroke="#000" stroke-width="1.50" fill="none"/>
<rect x="1210.7" y="111.4" width="79.9" height="26.5" fill="none" stroke="#000" stroke-width="2"/>
<text x="0" y="0" font-size="27.5" transform="translate(1299.9 131.7) scale(1.37 1)">6h</text>
<rect x="1210.7" y="143.7" width="79.9" height="26.5" fill="#c0c0c0"/>
<clipPath id="lc3"><rect x="1210.7" y="143.7" width="79.9" height="26.5"/></clipPath>
<path clip-path="url(#lc3)" d="M1097.1 109.0 L1217.1 190.6 M1118.1 109.0 L1238.1 190.6 M1139.1 109.0 L1259.1 190.6 M1160.1 109.0 L1280.1 190.6 M1181.1 109.0 L1301.1 190.6 M1202.1 109.0 L1322.1 190.6 M1223.1 109.0 L1343.1 190.6 M1244.1 109.0 L1364.1 190.6 M1265.1 109.0 L1385.1 190.6 M1286.1 109.0 L1406.1 190.6" stroke="#000" stroke-width="1.50" fill="none"/>
<rect x="1210.7" y="143.7" width="79.9" height="26.5" fill="none" stroke="#000" stroke-width="2"/>
<text x="0" y="0" font-size="27.5" transform="translate(1299.9 164.2) scale(1.37 1)">9h</text>
<rect x="1210.7" y="176.0" width="79.9" height="26.5" fill="#fff"/>
<rect x="1210.7" y="176.0" width="79.9" height="26.5" fill="none" stroke="#000" stroke-width="2"/>
<text x="0" y="0" font-size="27.5" transform="translate(1299.9 196.7) scale(1.37 1)">12h</text>
<rect x="1210.7" y="208.3" width="79.9" height="26.5" fill="#c0c0c0"/>
<clipPath id="lc5"><rect x="1210.7" y="208.3" width="79.9" height="26.5"/></clipPath>
<path clip-path="url(#lc5)" d="M1097.1 255.2 L1217.1 173.6 M1118.1 255.2 L1238.1 173.6 M1139.1 255.2 L1259.1 173.6 M1160.1 255.2 L1280.1 173.6 M1181.1 255.2 L1301.1 173.6 M1202.1 255.2 L1322.1 173.6 M1223.1 255.2 L1343.1 173.6 M1244.1 255.2 L1364.1 173.6 M1265.1 255.2 L1385.1 173.6 M1286.1 255.2 L1406.1 173.6" stroke="#000" stroke-width="1.50" fill="none"/>
<rect x="1210.7" y="208.3" width="79.9" height="26.5" fill="none" stroke="#000" stroke-width="2"/>
<text x="0" y="0" font-size="27.5" transform="translate(1299.9 229.2) scale(1.37 1)">15h</text>
<rect x="1210.7" y="240.6" width="79.9" height="26.5" fill="#fff"/>
<clipPath id="lc6"><rect x="1210.7" y="240.6" width="79.9" height="26.5"/></clipPath>
<path clip-path="url(#lc6)" d="M1210.7 247.5 H1290.6 M1210.7 254.7 H1290.6 M1210.7 260.7 H1290.6" stroke="#000" stroke-width="1.90" fill="none"/>
<rect x="1210.7" y="240.6" width="79.9" height="26.5" fill="none" stroke="#000" stroke-width="2"/>
<text x="0" y="0" font-size="27.5" transform="translate(1299.9 261.7) scale(1.37 1)">18h</text>
</svg></body></html>
